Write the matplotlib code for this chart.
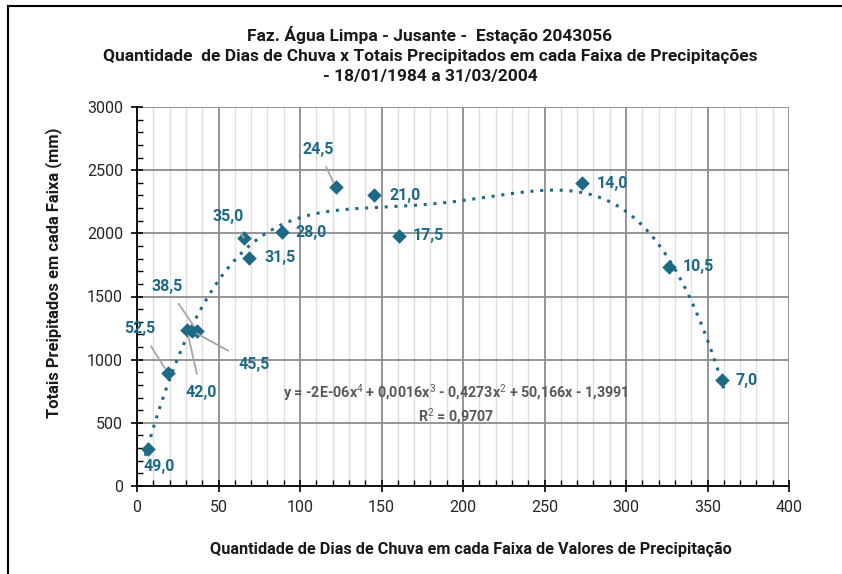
import numpy as np
import matplotlib
matplotlib.use("Agg")
import matplotlib.pyplot as plt
from matplotlib.ticker import MultipleLocator
from matplotlib.lines import Line2D
from matplotlib import font_manager

# ---- data ----
labels = ["49,0", "52,5", "42,0", "45,5", "38,5", "35,0", "31,5", "28,0",
          "24,5", "21,0", "17,5", "14,0", "10,5", "7,0"]
dias = [6.7, 19.0, 30.7, 33.7, 36.8, 65.6, 68.7, 88.8,
        121.9, 145.6, 160.7, 273.0, 326.4, 358.9]
totais = [295, 895, 1232, 1228, 1230, 1966, 1808, 2009,
          2365, 2302, 1979, 2397, 1734, 839]
# label offsets in pixels (dx, dy) and whether a leader line is drawn
offsets = [(11, -18), (-28, 44), (14, -62), (62, -34), (-30, 44), (-16, 21),
           (31, 0), (29, 0), (-18, 38), (31, 0), (29, 0), (30, 0), (29, 0), (25, 0)]
leaders = [False, True, True, True, True, True,
           False, False, True, False, False, False, False, False]

title = ("Faz. Água Limpa - Jusante -  Estação 2043056\n"
         "Quantidade  de Dias de Chuva x Totais Precipitados em cada Faixa de Precipitações\n"
         "- 18/01/1984 a 31/03/2004")
xlabel = "Quantidade de Dias de Chuva em cada Faixa de Valores de Precipitação"
ylabel = "Totais Preipitados em cada Faixa (mm)"
eq_text = "y = -2E-06x$^4$ + 0,0016x$^3$ - 0,4273x$^2$ + 50,166x - 1,3991\nR$^2$ = 0,9707"

blue = "#1D6A87"
available = {f.name for f in font_manager.fontManager.ttflist}
narrow = [f for f in ["Liberation Sans Narrow", "DejaVu Sans Condensed", "Roboto"]
          if f in available] + ["DejaVu Sans"]
plt.rcParams["mathtext.fontset"] = "custom"
plt.rcParams["mathtext.rm"] = narrow[0]
plt.rcParams["mathtext.bf"] = narrow[0] + ":bold"

fig = plt.figure(figsize=(8.42, 5.74), dpi=100)
ax = fig.add_axes([137/842, 1-486/574, (789-137)/842, (486-107)/574])

ax.set_xlim(0, 400)
ax.set_ylim(0, 3000)
ax.xaxis.set_major_locator(MultipleLocator(50))
ax.xaxis.set_minor_locator(MultipleLocator(10))
ax.yaxis.set_major_locator(MultipleLocator(500))
ax.yaxis.set_minor_locator(MultipleLocator(100))
ax.grid(which="major", color="#8c8c8c", linewidth=1.3)
ax.grid(which="minor", axis="x", color="#dedede", linewidth=1.0)
ax.set_axisbelow(True)
for s in ["top", "right"]:
    ax.spines[s].set_visible(False)
for s in ["left", "bottom"]:
    ax.spines[s].set_color("black")
    ax.spines[s].set_linewidth(1.3)
ax.tick_params(which="major", direction="inout", length=8, width=1.2,
               labelsize=11.5, labelcolor="#262626", pad=6)
ax.tick_params(which="minor", direction="in", length=4, width=1.0)
for lab in ax.get_xticklabels() + ax.get_yticklabels():
    lab.set_family(["Roboto", "DejaVu Sans"])

# trendline: 4th-degree polynomial fit
coef = np.polyfit(dias, totais, 4)
xs = np.linspace(5, 360, 300)
ax.plot(xs, np.polyval(coef, xs), linestyle=(0, (1, 2.2)), color=blue,
        linewidth=2.2, zorder=2)

ax.scatter(dias, totais, marker="D", s=55, color=blue, zorder=3, linewidths=0)

for lab, x, y, (dx, dy), ld in zip(labels, dias, totais, offsets, leaders):
    props = None
    if ld:
        props = dict(arrowstyle="-", color="#a6a6a6", lw=1.3, shrinkA=6, shrinkB=4)
    ax.annotate(lab, (x, y), xytext=(dx, dy), textcoords="offset pixels",
                ha="center", va="center", color=blue, fontsize=11.5,
                fontweight="bold", family=narrow, zorder=4, arrowprops=props)

ax.text(456/842, 1-404/574, eq_text, transform=fig.transFigure, ha="center",
        va="center", fontsize=10.3, color="#595959", fontweight="bold",
        family=narrow, linespacing=1.2)

fig.text(430/842, 1-55/574, title, ha="center", va="center", fontsize=12.5,
         fontweight="bold", family=narrow, linespacing=1.45, color="#1a1a1a")
fig.text(471/842, 1-549/574, xlabel, ha="center", va="center", fontsize=11.7,
         fontweight="bold", family=narrow, color="#1a1a1a")
fig.text(54/842, 1-273/574, ylabel, ha="center", va="center", fontsize=11.9,
         fontweight="bold", family=narrow, rotation=90, color="#1a1a1a")

# outer frame (left and top edges visible)
fig.add_artist(Line2D([8/842, 8/842], [0, 1-6/574], transform=fig.transFigure,
                      color="black", lw=1.5))
fig.add_artist(Line2D([8/842, 1], [1-6/574, 1-6/574], transform=fig.transFigure,
                      color="black", lw=1.5))

fig.savefig("out.png", dpi=100)
